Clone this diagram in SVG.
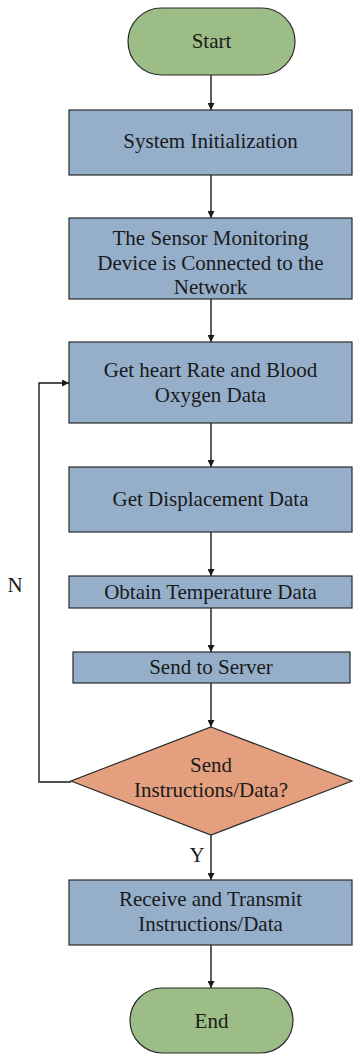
<svg xmlns="http://www.w3.org/2000/svg" width="353" height="1055" viewBox="0 0 353 1055">
  <style>
    .proc { fill: #95afca; stroke: #2b2b2b; stroke-width: 1.2; }
    .term { fill: #9dbd86; stroke: #2b2b2b; stroke-width: 1.2; }
    .dec { fill: #e49f7e; stroke: #2b2b2b; stroke-width: 1.2; }
    .lbl { font-family: "Liberation Serif", "Times New Roman", serif; font-size: 21px; fill: #1a1a1a; text-anchor: middle; }
    .edge { fill: none; stroke: #1a1a1a; stroke-width: 1.4; }
  </style>
  <defs>
    <marker id="arrow" viewBox="0 0 10 10" refX="10" refY="5" markerWidth="7" markerHeight="7" markerUnits="userSpaceOnUse" orient="auto">
      <path d="M0,0 L10,5 L0,10 Z" fill="#1a1a1a"/>
    </marker>
  </defs>
  <rect width="353" height="1055" fill="#ffffff"/>

  <g id="connectors">
    <line class="edge" x1="211" y1="75" x2="211" y2="110" marker-end="url(#arrow)"/>
    <line class="edge" x1="211" y1="175" x2="211" y2="218" marker-end="url(#arrow)"/>
    <line class="edge" x1="211" y1="299" x2="211" y2="342" marker-end="url(#arrow)"/>
    <line class="edge" x1="211" y1="423" x2="211" y2="467" marker-end="url(#arrow)"/>
    <line class="edge" x1="211" y1="532" x2="211" y2="576" marker-end="url(#arrow)"/>
    <line class="edge" x1="211" y1="608" x2="211" y2="652" marker-end="url(#arrow)"/>
    <line class="edge" x1="211" y1="683" x2="211" y2="727" marker-end="url(#arrow)"/>
    <line class="edge" x1="211" y1="835" x2="211" y2="880" marker-end="url(#arrow)"/>
    <line class="edge" x1="211" y1="945" x2="211" y2="988" marker-end="url(#arrow)"/>
    <polyline class="edge" points="71,782 39,782 39,383 69,383" marker-end="url(#arrow)"/>
    <text class="lbl" x="15" y="592">N</text>
    <text class="lbl" x="197" y="862">Y</text>
  </g>

  <g id="start">
    <rect class="term" x="128" y="8" width="167" height="67" rx="33.5" ry="33.5"/>
    <text class="lbl" x="211.5" y="48">Start</text>
  </g>

  <g id="init">
    <rect class="proc" x="69" y="110" width="283" height="65"/>
    <text class="lbl" x="210.5" y="148">System Initialization</text>
  </g>

  <g id="network">
    <rect class="proc" x="69" y="218" width="283" height="81"/>
    <text class="lbl" x="210.5" y="245">The Sensor Monitoring</text>
    <text class="lbl" x="210.5" y="270">Device is Connected to the</text>
    <text class="lbl" x="210.5" y="294">Network</text>
  </g>

  <g id="heart">
    <rect class="proc" x="69" y="342" width="283" height="81"/>
    <text class="lbl" x="210.5" y="377">Get heart Rate and Blood</text>
    <text class="lbl" x="210.5" y="402">Oxygen Data</text>
  </g>

  <g id="displacement">
    <rect class="proc" x="69" y="467" width="283" height="65"/>
    <text class="lbl" x="210.5" y="506">Get Displacement Data</text>
  </g>

  <g id="temperature">
    <rect class="proc" x="69" y="576" width="283" height="32"/>
    <text class="lbl" x="210.5" y="599">Obtain Temperature Data</text>
  </g>

  <g id="server">
    <rect class="proc" x="73" y="652" width="277" height="31"/>
    <text class="lbl" x="211" y="674">Send to Server</text>
  </g>

  <g id="decision">
    <polygon class="dec" points="211,727 352,781 211,835 71,781"/>
    <text class="lbl" x="211" y="772">Send</text>
    <text class="lbl" x="211" y="797">Instructions/Data?</text>
  </g>

  <g id="transmit">
    <rect class="proc" x="69" y="880" width="283" height="65"/>
    <text class="lbl" x="210.5" y="906">Receive and Transmit</text>
    <text class="lbl" x="210.5" y="931">Instructions/Data</text>
  </g>

  <g id="end">
    <rect class="term" x="130" y="988" width="163" height="65" rx="32.5" ry="32.5"/>
    <text class="lbl" x="211.5" y="1028">End</text>
  </g>
</svg>
